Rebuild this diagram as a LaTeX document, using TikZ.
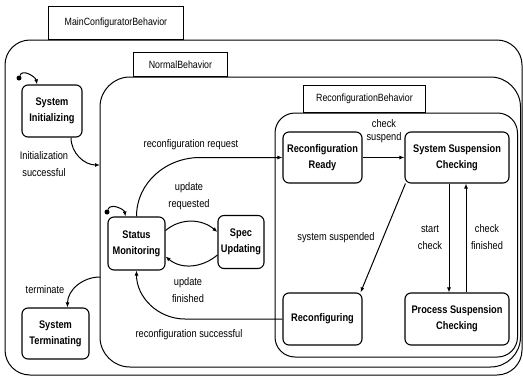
\documentclass[tikz,border=0pt]{standalone}
\usepackage{fontspec}
\setmainfont{Liberation Sans}[FakeStretch=0.84]
\usetikzlibrary{arrows.meta,positioning}

\tikzset{
  state/.style={draw, line width=1.1pt, rounded corners=6pt, align=center,
    font=\fontsize{11}{16}\selectfont\bfseries, inner sep=1pt},
  tab/.style={draw, line width=0.9pt, anchor=south west, inner sep=1pt,
    font=\fontsize{10.5}{12}\selectfont},
  frame/.style={line width=1pt},
  lbl/.style={align=center, inner sep=0pt, font=\fontsize{11}{17}\selectfont},
  trans/.style={-{Latex[length=5pt,width=4pt]}, line width=1pt},
  initdot/.style={circle, fill, inner sep=0pt, minimum size=5pt}
}

\begin{document}
\begin{tikzpicture}[x=1pt,y=1pt]
	\useasboundingbox (0,0) rectangle (523,-378);

	% nested behaviours
	\draw[frame, rounded corners=25pt] (5,-40) rectangle (522,-375);
	\node[tab, minimum width=135pt, minimum height=33pt] (maintab) at (48,-40) {MainConfiguratorBehavior};
	\draw[frame, rounded corners=30pt] (100,-77) rectangle (520.5,-367);
	\node[tab, minimum width=94pt, minimum height=24pt] (normtab) at (133,-77) {NormalBehavior};
	\draw[frame, rounded corners=20pt] (275,-113) rectangle (517.5,-357);
	\node[tab, minimum width=122pt, minimum height=27pt] (reconftab) at (303,-113) {ReconfigurationBehavior};

	% states
	\node[state, minimum width=60pt, minimum height=52pt] (sysinit) at (52,-111) {System\\Initializing};
	\node[state, minimum width=67pt, minimum height=51pt] (systerm) at (55.5,-333.5) {System\\Terminating};
	\node[state, minimum width=57pt, minimum height=53pt] (statmon) at (136.5,-243.5) {Status\\Monitoring};
	\node[state, minimum width=46pt, minimum height=53pt] (specupd) at (241,-242) {Spec\\Updating};
	\node[state, minimum width=79pt, minimum height=51pt] (reready) at (322.5,-157.5) {Reconfiguration\\Ready};
	\node[state, minimum width=104pt, minimum height=51pt] (sysck) at (457,-157.5) {System Suspension\\Checking};
	\node[state, minimum width=79pt, minimum height=52pt] (reconfing) at (322.5,-319) {Reconfiguring};
	\node[state, minimum width=104pt, minimum height=52pt] (procck) at (457,-319) {Process Suspension\\Checking};

	% initial pseudo states
	\node[initdot] (init1) at (19,-78) {};
	\node[initdot] (init2) at (107,-212) {};
	\draw[trans] (init1) to[out=70,in=100] ([xshift=-15pt]sysinit.north);
	\draw[trans] (init2) to[out=70,in=100] ([xshift=-11pt]statmon.north);

	% frame end points
	\coordinate (normin) at (100,-165);
	\coordinate (normout) at (100,-277);
	\coordinate (reqbend) at (200,-157.5);
	\coordinate (succbend) at (185,-319);

	% transitions
	\draw[trans] ([xshift=19pt]sysinit.south) to[out=-90,in=180] (normin);
	\draw[trans] (normout) to[out=180,in=90] ([xshift=12pt]systerm.north);
	\draw[trans] (statmon.north) to[out=90,in=180] (reqbend) -- (reready.west);
	\draw[trans] ([yshift=13pt]statmon.east) to[out=40,in=140] ([yshift=10pt]specupd.west);
	\draw[trans] ([yshift=-13pt]specupd.west) to[out=220,in=-40] ([yshift=-13pt]statmon.east);
	\draw[trans] (reconfing.west) -- (succbend) to[out=180,in=-90] (statmon.south);
	\draw[trans] (reready.east) -- (sysck.west);
	\draw[trans] ([xshift=1pt]sysck.south west) -- ([xshift=-2pt]reconfing.north east);
	\draw[trans] ([xshift=-8pt]sysck.south) -- ([xshift=-8pt]procck.north);
	\draw[trans] ([xshift=9pt]procck.north) -- ([xshift=9pt]sysck.south);

	% labels
	\node[lbl] (lblinit) at (44,-164) {Initialization\\successful};
	\node[lbl] (lblterm) at (45,-290) {terminate};
	\node[lbl] (lblreq) at (191,-145) {reconfiguration request};
	\node[lbl] (lblupdreq) at (189,-196) {update\\requested};
	\node[lbl] (lblupdfin) at (188,-290) {update\\finished};
	\node[lbl] (lblsucc) at (189,-335) {reconfiguration successful};
	\node[lbl, font=\fontsize{11}{12.5}\selectfont] (lblcksusp) at (384,-131) {check\\suspend};
	\node[lbl] (lblsusp) at (336,-238) {system suspended};
	\node[lbl] (lblstart) at (430,-237) {start\\check};
	\node[lbl] (lblfin) at (487,-237) {check\\finished};
\end{tikzpicture}
\end{document}
